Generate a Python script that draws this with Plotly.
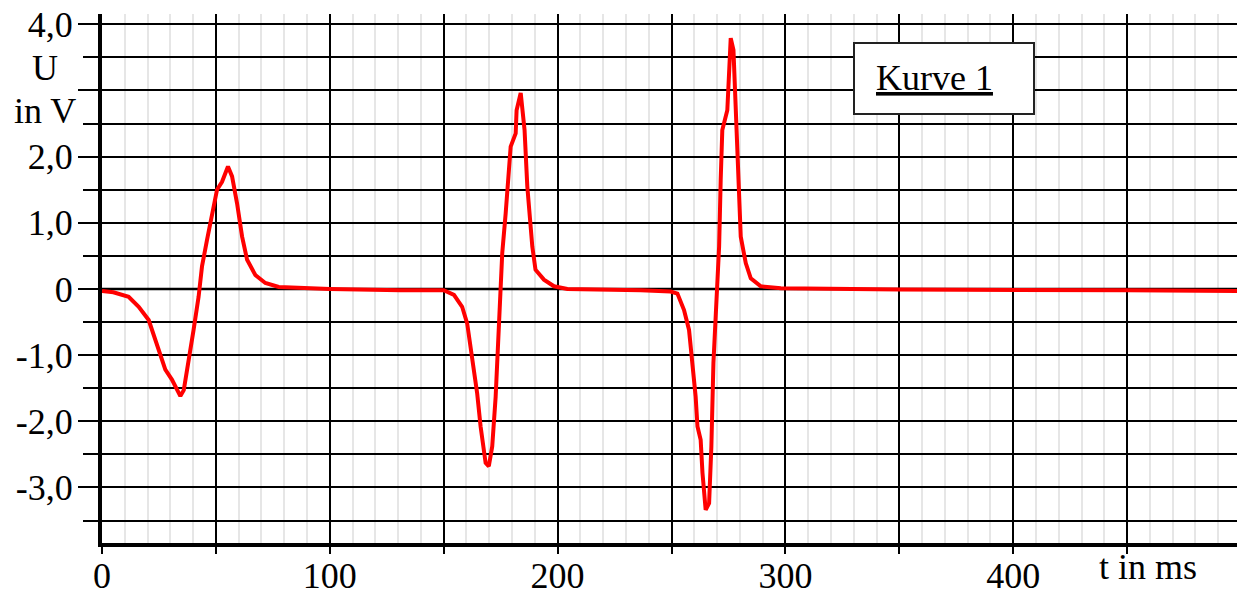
import plotly.graph_objects as go

# Red curve (Kurve 1): time in ms, voltage in V
t_red = [0, 5, 11.7, 16.1, 20.5, 24.9, 27.8, 30.7, 34.4, 35.9, 38.0, 40.2, 42.4, 43.9,
         46.1, 48.3, 50.5, 52.7, 55.3, 57.1, 59.3, 61.5, 63.7, 67.3, 71.7, 77.6, 84.9,
         100, 131, 150, 154.5, 158.1, 160.3, 161.8, 163.2, 164.7, 166.2, 168.4, 169.8,
         171.3, 172.8, 174.2, 175.7, 177.2, 178.6, 179.4, 181.6, 182.0, 183.8, 185.5,
         186.7, 188.9, 190.3, 194.0, 198.4, 204.3, 236.5, 249.6, 252.6, 255.5, 257.7,
         259.2, 260.6, 261.4, 262.8, 263.6, 265.0, 266.5, 267.5, 268.4, 269.8, 270.9,
         271.6, 272.3, 274.5, 275.3, 276.0, 277.2, 278.2, 279.6, 280.4, 282.6, 284.8,
         289.2, 298, 350, 400, 450, 500]
u_red = [-0.03, -0.05, -0.12, -0.27, -0.47, -0.92, -1.22, -1.37, -1.62, -1.53, -1.12,
         -0.62, -0.12, 0.34, 0.74, 1.09, 1.50, 1.62, 1.85, 1.70, 1.29, 0.79, 0.44, 0.21,
         0.09, 0.03, 0.02, 0.0, -0.02, -0.02, -0.09, -0.27, -0.52, -0.87, -1.27, -1.58,
         -2.08, -2.63, -2.68, -2.38, -1.63, -0.47, 0.54, 1.14, 1.75, 2.15, 2.35, 2.70,
         2.96, 2.40, 1.55, 0.64, 0.29, 0.14, 0.04, 0.0, -0.02, -0.04, -0.07, -0.32,
         -0.62, -1.12, -1.63, -2.08, -2.28, -2.78, -3.34, -3.24, -2.38, -1.12, -0.12,
         0.64, 1.65, 2.40, 2.70, 3.51, 3.79, 3.61, 2.65, 1.39, 0.79, 0.39, 0.16, 0.04,
         0.01, -0.01, -0.01, -0.02, -0.03]

# Black reference curve
t_black = [0, 100, 200, 300, 400, 500]
u_black = [0, 0, 0, 0, 0, 0]

x_tickvals = [0, 50, 100, 150, 200, 250, 300, 350, 400, 450, 500]
x_ticktext = ["0", "", "100", "", "200", "", "300", "", "400", "", ""]
y_tickvals = [-3, -2, -1, 0, 1, 2, 3, 4]
y_ticktext = ["-3,0", "-2,0", "-1,0", "0", "1,0", "2,0", "", "4,0"]
y_minorvals = [-3.5, -2.5, -1.5, -0.5, 0.5, 1.5, 2.5, 3.5]

FONT = "Liberation Serif"
FS = 36
PW, PH = 1139, 529.3  # plot area size in px (for paper-coordinate placement)
PX0, PY1 = 102, 543.3

fig = go.Figure()
fig.add_trace(go.Scatter(x=t_black, y=u_black, mode="lines",
                         line=dict(color="black", width=2.5), showlegend=False))
fig.add_trace(go.Scatter(x=t_red, y=u_red, mode="lines",
                         line=dict(color="#ff0000", width=4), showlegend=False))

# page body has an 8px margin, so the figure is 8px smaller and margins shifted
fig.update_layout(
    width=1237, height=589,
    margin=dict(l=94, r=4, t=6, b=54, pad=0),
    paper_bgcolor="white", plot_bgcolor="white",
    font=dict(family=FONT, size=FS, color="black"),
    showlegend=False,
    xaxis=dict(
        automargin=False,
        range=[0, 500], tickmode="array", tickvals=x_tickvals, ticktext=x_ticktext,
        showgrid=True, gridcolor="black", gridwidth=2, zeroline=False,
        showline=True, linecolor="black", linewidth=4,
        ticks="outside", ticklen=7, tickwidth=2, tickcolor="black",
        ticklabelstandoff=-9, ticklabeloverflow="allow",
        minor=dict(tickvals=list(range(0, 501, 10)), showgrid=True,
                   gridcolor="#e6e6e6", gridwidth=2, ticks=""),
        tickfont=dict(family=FONT, size=FS),
    ),
    yaxis=dict(
        automargin=False,
        range=[-3.84, 4.155], tickmode="array", tickvals=y_tickvals, ticktext=y_ticktext,
        showgrid=True, gridcolor="black", gridwidth=2, zeroline=False,
        showline=True, linecolor="black", linewidth=4,
        ticks="outside", ticklen=20, tickwidth=2, tickcolor="black",
        ticklabelstandoff=-2, ticklabeloverflow="allow",
        minor=dict(tickvals=y_minorvals, showgrid=True, gridcolor="black", gridwidth=2,
                   ticks="outside", ticklen=15, tickwidth=2, tickcolor="black"),
        tickfont=dict(family=FONT, size=FS),
    ),
)

# axis title annotations
fig.add_annotation(text="U", xref="paper", yref="paper", x=(45 - PX0) / PW,
                   y=(PY1 - 68) / PH,
                   showarrow=False, xanchor="center", yanchor="middle",
                   font=dict(family=FONT, size=FS))
fig.add_annotation(text="in V", xref="paper", yref="paper", x=(45 - PX0) / PW,
                   y=(PY1 - 111) / PH,
                   showarrow=False, xanchor="center", yanchor="middle",
                   font=dict(family=FONT, size=FS))
fig.add_annotation(text="t in ms", xref="paper", yref="paper", x=(1148 - PX0) / PW, y=0,
                   yshift=-24, showarrow=False, xanchor="center", yanchor="middle",
                   font=dict(family=FONT, size=FS))

# Legend box "Kurve 1"
fig.add_shape(type="rect", xref="paper", yref="paper",
              x0=(854 - PX0) / PW, x1=(1034 - PX0) / PW,
              y0=(PY1 - 114) / PH, y1=(PY1 - 43) / PH,
              line=dict(color="#222222", width=2), fillcolor="white", layer="above")
fig.add_annotation(text="<u>Kurve 1</u>", xref="paper", yref="paper",
                   x=(934 - PX0) / PW, y=(PY1 - 78) / PH,
                   showarrow=False, xanchor="center", yanchor="middle",
                   font=dict(family=FONT, size=FS))

fig.write_html("out.html")
